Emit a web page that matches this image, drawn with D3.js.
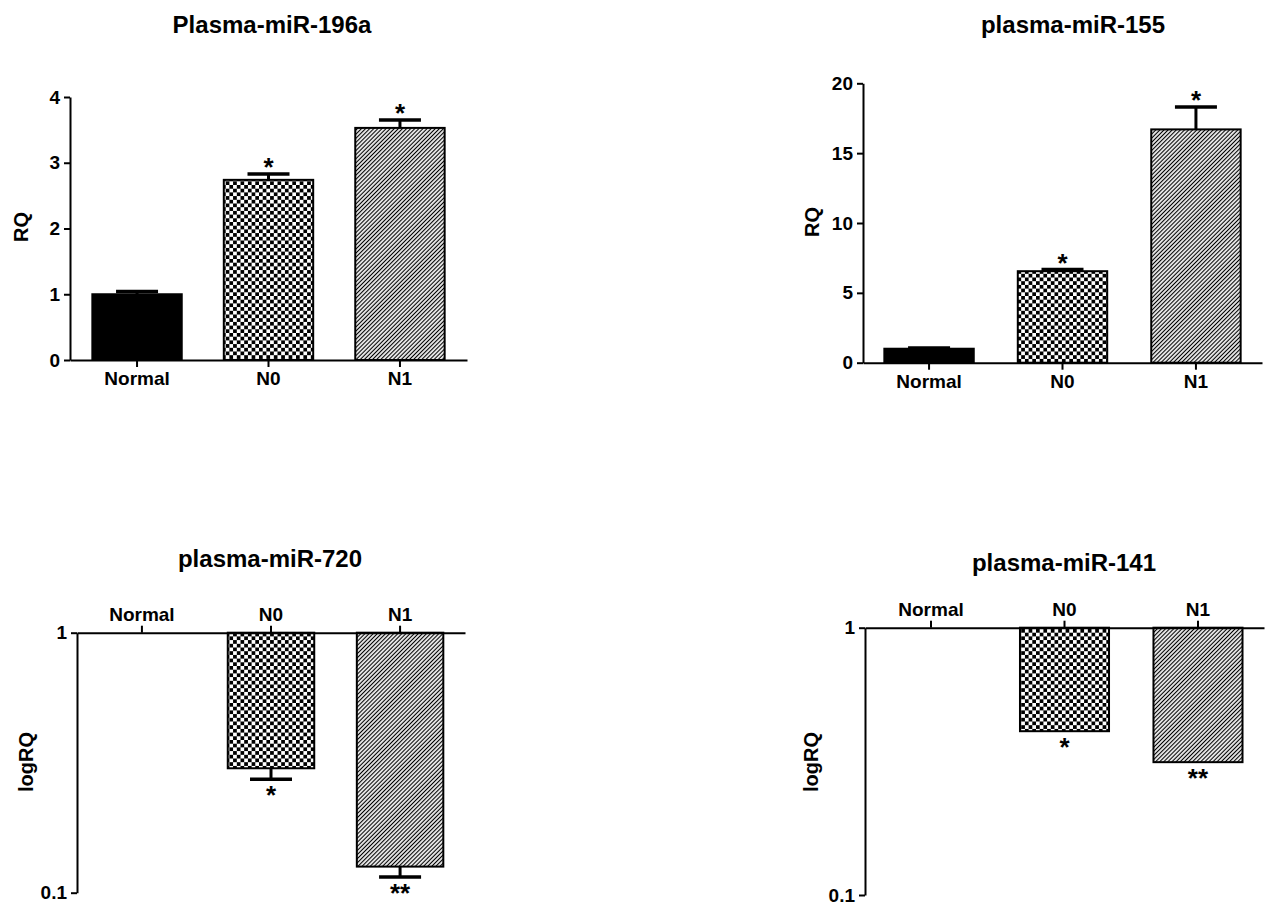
<!DOCTYPE html>
<html lang="en">
<head>
<meta charset="UTF-8"/>
<title>Plasma miRNA RQ</title>
<script src="https://cdnjs.cloudflare.com/ajax/libs/d3/7.8.5/d3.min.js"></script>
<style>
	body { margin: 0; background: #fff; }
	svg text { font-family: "Liberation Sans", Arial, sans-serif; font-weight: bold; fill: #000; }
</style>
</head>
<body>
<script>
var categories = ["Normal", "N0", "N1"];
var fills = ["solid", "checker", "hatch"];

var rq196a = [1.00, 2.74, 3.53];
var err196a = [0.04, 0.09, 0.12];
var stars196a = ["", "*", "*"];

var rq155 = [1.00, 6.55, 16.7];
var err155 = [0.06, 0.12, 1.6];
var stars155 = ["", "*", "*"];

var rq720 = [1.00, 0.301, 0.126];
var err720 = [0, 0.028, 0.011];
var stars720 = ["", "*", "**"];

var rq141 = [1.00, 0.410, 0.314];
var err141 = [0, 0, 0];
var stars141 = ["", "*", "**"];

var yTicks196a = [0, 1, 2, 3, 4];
var yTicks155 = [0, 5, 10, 15, 20];
var logTicks = [0.1, 1];

var w = 1266;
var h = 903;

var svg = d3.select("body")
	.append("svg")
	.attr("width", w)
	.attr("height", h);

// fill patterns
var defs = svg.append("defs");
var c = 3.7;
var checker = defs.append("pattern")
	.attr("id", "checker")
	.attr("patternUnits", "userSpaceOnUse")
	.attr("width", 2 * c)
	.attr("height", 2 * c);
checker.append("rect").attr("width", 2 * c).attr("height", 2 * c).attr("fill", "#fff");
checker.append("rect").attr("width", c).attr("height", c).attr("fill", "#000");
checker.append("rect").attr("x", c).attr("y", c).attr("width", c).attr("height", c).attr("fill", "#000");

var hs = 2.9;
var hatch = defs.append("pattern")
	.attr("id", "hatch")
	.attr("patternUnits", "userSpaceOnUse")
	.attr("width", hs)
	.attr("height", hs)
	.attr("patternTransform", "rotate(45)");
hatch.append("rect").attr("width", hs).attr("height", hs).attr("fill", "#fff");
hatch.append("line")
	.attr("x1", hs / 2).attr("x2", hs / 2)
	.attr("y1", 0).attr("y2", hs)
	.attr("stroke", "#000")
	.attr("stroke-width", 1.2);

function fillFor(kind) {
	if (kind == "checker") return "url(#checker)";
	if (kind == "hatch") return "url(#hatch)";
	return "#000";
}

var panels = [
	{ title: "Plasma-miR-196a", values: rq196a, errs: err196a, stars: stars196a, ticks: yTicks196a, log: false, yLabel: "RQ",
	  x0: 70, x1: 467, yTop: 97, yBottom: 360, titleX: 272, titleY: 33, labelX: 21, labelY: 227, pi: 0.32, po: 0.17 },
	{ title: "plasma-miR-155", values: rq155, errs: err155, stars: stars155, ticks: yTicks155, log: false, yLabel: "RQ",
	  x0: 863, x1: 1262, yTop: 83.3, yBottom: 362.7, titleX: 1073, titleY: 33, labelX: 812, labelY: 222, pi: 0.33, po: 0.16 },
	{ title: "plasma-miR-720", values: rq720, errs: err720, stars: stars720, ticks: logTicks, log: true, yLabel: "logRQ",
	  x0: 77, x1: 465, yTop: 632.7, yBottom: 892.7, titleX: 270, titleY: 567, labelX: 26, labelY: 762, pi: 0.33, po: 0.168 },
	{ title: "plasma-miR-141", values: rq141, errs: err141, stars: stars141, ticks: logTicks, log: true, yLabel: "logRQ",
	  x0: 865, x1: 1264, yTop: 627.7, yBottom: 895, titleX: 1064, titleY: 571, labelX: 811, labelY: 762, pi: 0.333, po: 0.161 }
];

panels.forEach(function(p) {
	var g = svg.append("g");

	var x = d3.scaleBand()
		.domain(categories)
		.range([p.x0, p.x1])
		.paddingInner(p.pi)
		.paddingOuter(p.po);

	var y = p.log
		? d3.scaleLog().domain([0.1, 1]).range([p.yBottom, p.yTop])
		: d3.scaleLinear().domain([0, d3.max(p.ticks)]).range([p.yBottom, p.yTop]);

	var base = p.log ? 1 : 0;
	var rows = categories.map(function(cat, i) {
		return { cat: cat, v: p.values[i], e: p.errs[i], star: p.stars[i], fill: fills[i] };
	});

	// bars
	g.selectAll("rect.bar")
		.data(rows)
		.enter()
		.append("rect")
		.attr("class", "bar")
		.attr("x", function(d) { return x(d.cat); })
		.attr("y", function(d) { return Math.min(y(d.v), y(base)); })
		.attr("width", x.bandwidth())
		.attr("height", function(d) { return Math.abs(y(d.v) - y(base)); })
		.attr("fill", function(d) { return fillFor(d.fill); })
		.attr("stroke", "#000")
		.attr("stroke-width", 2);

	// error bars (upward for RQ, downward for logRQ)
	var withErr = rows.filter(function(d) { return d.e > 0; });
	function errEnd(d) { return p.log ? y(d.v - d.e) : y(d.v + d.e); }
	g.selectAll("line.err")
		.data(withErr)
		.enter()
		.append("line")
		.attr("class", "err")
		.attr("x1", function(d) { return x(d.cat) + x.bandwidth() / 2; })
		.attr("x2", function(d) { return x(d.cat) + x.bandwidth() / 2; })
		.attr("y1", function(d) { return y(d.v); })
		.attr("y2", errEnd)
		.attr("stroke", "#000")
		.attr("stroke-width", 3);
	g.selectAll("line.cap")
		.data(withErr)
		.enter()
		.append("line")
		.attr("class", "cap")
		.attr("x1", function(d) { return x(d.cat) + x.bandwidth() / 2 - 21; })
		.attr("x2", function(d) { return x(d.cat) + x.bandwidth() / 2 + 21; })
		.attr("y1", errEnd)
		.attr("y2", errEnd)
		.attr("stroke", "#000")
		.attr("stroke-width", 3.5);

	// significance stars
	g.selectAll("text.star")
		.data(rows.filter(function(d) { return d.star != ""; }))
		.enter()
		.append("text")
		.attr("class", "star")
		.attr("x", function(d) { return x(d.cat) + x.bandwidth() / 2; })
		.attr("y", function(d) { return p.log ? errEnd(d) + 25 : errEnd(d) + 2; })
		.attr("text-anchor", "middle")
		.attr("font-size", "26px")
		.text(function(d) { return d.star; });

	// axes
	var xAxis = p.log ? d3.axisTop(x) : d3.axisBottom(x);
	xAxis.tickSize(7).tickSizeOuter(0).tickPadding(5);
	var gx = g.append("g")
		.attr("transform", "translate(0," + y(base) + ")")
		.call(xAxis);

	var yAxis = d3.axisLeft(y)
		.tickValues(p.ticks)
		.tickFormat(d3.format(""))
		.tickSize(6)
		.tickSizeOuter(0)
		.tickPadding(4);
	var gy = g.append("g")
		.attr("transform", "translate(" + p.x0 + ",0)")
		.call(yAxis);

	[gx, gy].forEach(function(a) {
		a.select(".domain").attr("stroke-width", 2);
		a.selectAll(".tick line").attr("stroke-width", 2);
		a.selectAll(".tick text")
			.attr("font-size", "19px")
			.attr("font-family", "'Liberation Sans', Arial, sans-serif")
			.attr("font-weight", "bold");
	});

	// title
	g.append("text")
		.attr("x", p.titleX)
		.attr("y", p.titleY)
		.attr("text-anchor", "middle")
		.attr("font-size", "24px")
		.text(p.title);

	// y label
	g.append("text")
		.attr("transform", "translate(" + p.labelX + "," + p.labelY + ") rotate(-90)")
		.attr("text-anchor", "middle")
		.attr("dy", "0.35em")
		.attr("font-size", "20px")
		.text(p.yLabel);
});
</script>
</body>
</html>
